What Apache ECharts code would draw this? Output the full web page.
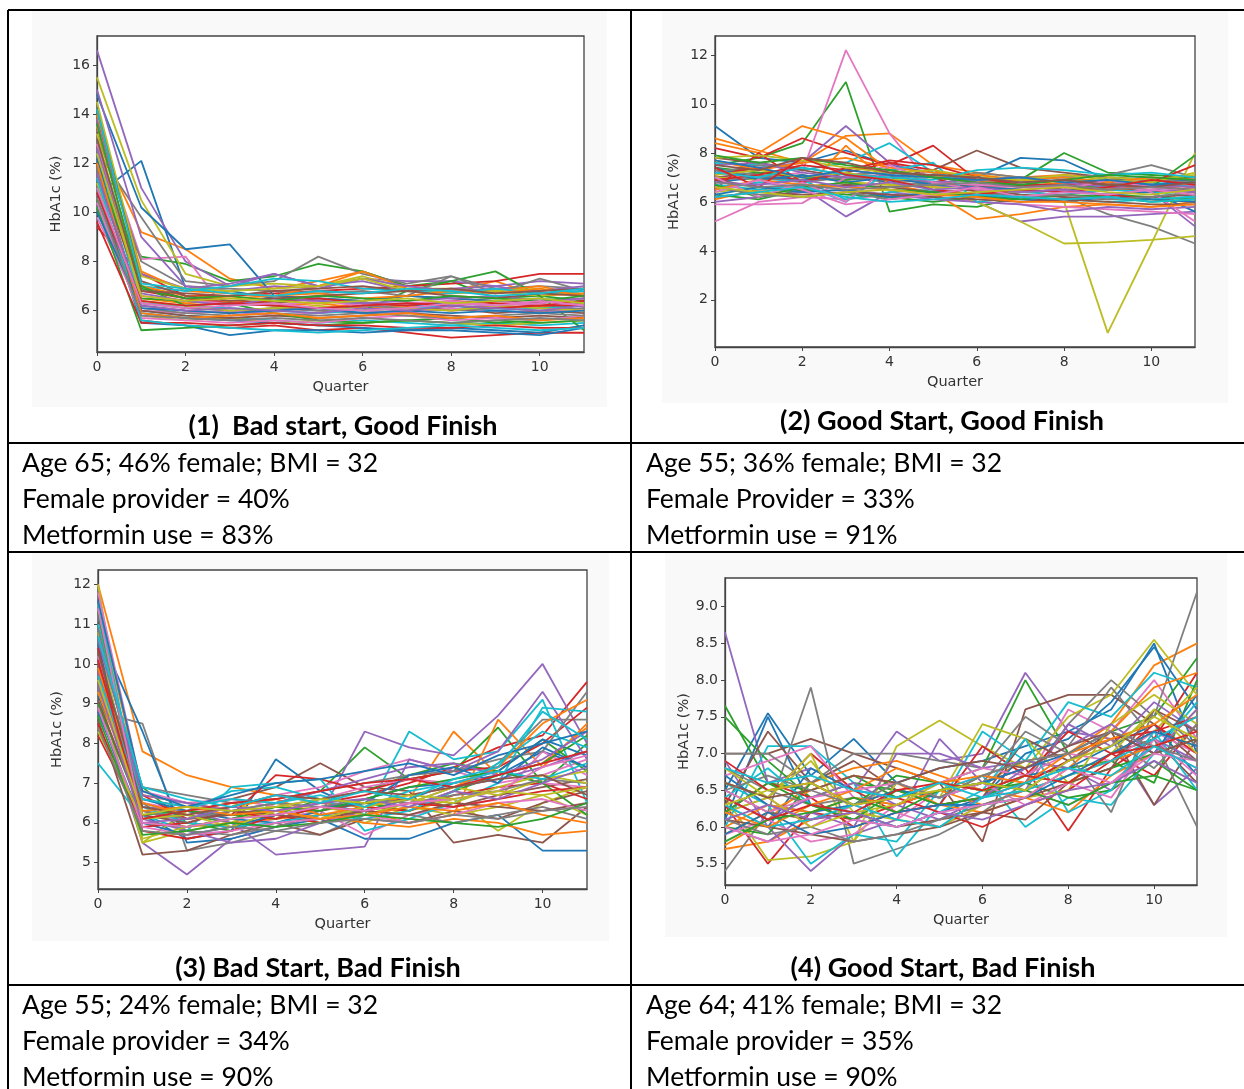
<!DOCTYPE html>
<html><head><meta charset="utf-8">
<script src="https://cdn.jsdelivr.net/npm/echarts@6/dist/echarts.min.js"></script>
<style>html,body{margin:0;padding:0;background:#fff;overflow:hidden}#c{width:1244px;height:1089px}</style>
</head><body><div id="c"></div>
<script>
// ---------------- DATA ----------------
const quarters = [0,1,2,3,4,5,6,7,8,9,10,11];
const xTicks = [0,2,4,6,8,10];
const p1Ticks = [6,8,10,12,14,16];
const p2Ticks = [2,4,6,8,10,12];
const p3Ticks = [5,6,7,8,9,10,11,12];
const p4Ticks = [5.5,6.0,6.5,7.0,7.5,8.0,8.5,9.0];
const xName = 'Quarter';
const yName = 'HbA1c (%)';
const panelTitles = ['(1)  Bad start, Good Finish','(2) Good Start, Good Finish','(3) Bad Start, Bad Finish','(4) Good Start, Bad Finish'];
const notes1 = ['Age 65; 46% female; BMI = 32','Female provider = 40%','Metformin use = 83%'];
const notes2 = ['Age 55; 36% female; BMI = 32','Female Provider = 33%','Metformin use = 91%'];
const notes3 = ['Age 55; 24% female; BMI = 32','Female provider = 34%','Metformin use = 90%'];
const notes4 = ['Age 64; 41% female; BMI = 32','Female provider = 35%','Metformin use = 90%'];

// Panel 1: Bad start, Good finish (HbA1c per patient, quarters 0..11)
const p1Lines = [
[10.7,12.1,6.9,6.8,6.5,6.4,6.3,6.2,6.3,6.2,6.1,6.2],
[13.0,9.2,8.5,7.3,6.9,7.2,7.6,7.0,6.8,7.2,6.6,6.7],
[11.0,8.2,7.9,7.2,7.4,7.9,7.6,7.0,7.2,6.5,6.6,6.4],
[9.4,7.5,6.6,6.6,6.7,6.8,6.9,7.0,7.1,7.2,7.5,7.5],
[16.6,11.0,8.0,7.0,7.5,7.0,7.3,7.2,7.2,7.0,7.2,7.1],
[12.2,7.0,6.5,6.4,6.3,6.5,6.4,6.6,6.5,6.4,6.3,6.5],
[13.5,8.1,8.2,5.8,6.0,6.1,6.3,6.0,6.2,6.4,6.2,6.3],
[12.5,9.8,7.2,7.0,7.2,8.2,7.5,7.1,7.4,6.9,7.0,6.9],
[15.5,10.5,7.5,7.0,7.1,7.0,7.4,6.9,6.9,6.8,6.6,6.8],
[10.2,6.0,5.8,5.7,5.6,5.5,5.6,5.5,5.4,5.5,5.4,5.5],
[14.8,10.2,8.5,8.7,6.6,6.5,6.4,6.6,6.5,6.4,6.5,6.3],
[12.8,6.5,6.3,6.4,6.2,6.3,6.1,6.2,6.0,6.1,6.2,6.0],
[10.5,6.5,6.4,6.3,6.2,6.1,6.0,6.8,7.2,7.6,6.6,5.2],
[12.0,5.6,5.4,5.3,5.4,5.2,5.3,5.1,4.9,5.0,5.1,5.1],
[13.8,7.5,6.9,7.1,7.5,7.0,7.2,6.8,6.9,7.0,6.7,6.8],
[11.5,6.2,6.0,5.9,6.1,6.0,5.9,6.0,6.1,5.9,6.0,5.9],
[9.8,6.0,5.9,6.0,5.8,5.9,6.0,5.9,6.1,6.0,5.9,6.1],
[13.2,8.0,7.0,6.9,6.8,6.7,6.8,6.6,7.4,6.7,7.3,6.8],
[11.2,5.8,5.6,5.7,5.5,5.6,5.5,5.6,5.5,5.4,5.5,5.6],
[12.4,6.3,6.2,6.1,6.0,5.9,6.0,6.1,6.2,6.0,6.1,6.2],
[11.0,5.5,5.4,5.0,5.2,5.2,5.1,5.2,5.2,5.1,5.0,5.3],
[14.0,7.6,6.8,6.7,6.6,7.0,7.6,6.9,6.7,6.8,7.0,6.6],
[10.2,5.2,5.3,5.4,5.5,5.4,5.5,5.6,5.5,5.6,5.5,5.6],
[11.8,6.8,6.5,6.3,6.4,6.5,6.3,6.2,6.4,6.3,6.2,6.4],
[15.0,9.0,7.0,6.8,7.0,6.9,7.3,7.0,6.8,6.9,6.8,7.0],
[10.8,6.0,5.8,5.7,5.8,5.7,5.8,5.9,5.8,5.7,5.8,5.7],
[12.8,6.6,6.4,6.3,6.2,6.4,6.2,6.3,6.4,6.2,6.3,6.5],
[11.5,6.3,6.1,6.0,6.1,6.0,6.2,6.1,6.0,6.1,6.0,6.1],
[14.5,7.4,6.9,6.8,6.9,7.0,7.3,6.8,6.7,6.8,6.9,6.6],
[13.0,7.0,6.8,7.0,7.3,7.2,6.9,6.8,6.7,6.9,6.7,6.8],
[12.2,5.9,5.7,5.6,5.5,5.4,5.3,5.2,5.3,5.2,5.1,5.4],
[13.5,7.0,6.6,6.5,6.6,6.7,6.5,6.6,6.8,6.7,6.9,6.6],
[11.8,7.0,6.2,6.3,5.9,5.6,5.5,5.6,5.7,5.5,5.6,5.8],
[9.6,5.5,5.5,5.4,5.5,5.4,5.4,5.3,5.3,5.4,5.3,5.3],
[12.6,6.7,6.4,6.2,6.5,6.4,6.3,6.4,6.5,6.6,6.4,6.5],
[14.2,7.2,6.6,6.4,6.5,6.6,6.7,6.8,6.6,6.5,6.7,6.6],
[10.4,5.7,5.6,5.5,5.6,5.5,5.7,5.8,5.6,5.7,5.6,5.8],
[11.8,6.1,5.9,5.8,5.9,5.8,5.9,5.8,5.7,5.8,5.9,5.8],
[13.2,6.4,6.2,6.0,6.1,6.2,6.0,6.1,6.0,6.2,6.1,6.0],
[11.4,5.6,5.4,5.3,5.2,5.1,5.2,5.3,5.4,5.3,5.2,5.3],
[10.0,6.1,6.0,5.9,6.0,6.1,5.9,6.0,5.9,6.0,5.9,6.0],
[12.0,5.9,5.7,5.8,5.9,5.7,5.8,5.9,5.7,5.8,5.6,5.7],
[13.6,6.9,6.5,6.6,6.4,6.6,6.5,6.4,6.6,6.5,6.4,6.6],
[10.8,6.4,6.2,6.3,6.2,6.1,6.2,6.3,6.2,6.1,6.2,6.2],
[11.6,6.2,6.0,6.1,6.0,5.9,6.1,6.0,6.2,6.1,6.0,6.2],
[13.0,6.8,6.7,6.6,6.8,6.9,7.0,6.8,6.9,6.7,6.8,6.9],
[11.0,6.3,6.1,6.2,6.3,6.1,6.0,6.1,6.3,6.2,6.4,6.2],
[10.6,5.8,5.7,5.6,5.7,5.6,5.7,5.6,5.5,5.6,5.7,5.6],
[12.4,6.6,6.4,6.5,6.4,6.3,6.4,6.5,6.3,6.4,6.5,6.3],
[14.2,7.1,6.9,6.7,6.6,6.8,6.7,6.9,6.8,6.6,6.7,6.9]
];

// Panel 2: Good start, Good finish
const p2Lines = [
[9.1,7.8,7.6,8.1,7.5,7.2,7.0,6.9,7.0,6.8,6.7,6.9],
[8.6,8.1,7.6,8.7,8.8,7.5,7.2,7.0,7.1,7.0,6.9,7.0],
[7.5,7.8,8.4,10.9,5.6,5.9,5.8,6.2,6.1,6.3,6.2,6.1],
[8.2,7.8,8.6,8.0,7.5,8.3,6.9,6.6,6.8,6.5,6.7,6.6],
[7.2,7.4,7.6,9.1,7.6,7.0,6.8,6.7,6.6,6.5,6.4,5.0],
[7.0,7.2,7.0,6.9,7.0,7.3,8.1,7.4,7.2,7.0,6.9,7.0],
[6.9,7.0,7.2,12.2,8.8,6.6,6.7,6.5,6.4,6.6,6.5,6.7],
[7.3,7.1,6.9,7.0,6.8,6.7,6.6,6.5,6.2,5.5,5.0,4.3],
[7.0,6.9,7.1,6.8,6.7,6.6,6.5,6.2,6.0,0.65,4.3,8.0],
[7.6,7.5,7.3,7.6,8.4,7.2,6.9,6.8,6.9,6.7,6.8,6.6],
[6.8,7.0,6.9,7.2,6.8,7.1,7.0,7.8,7.7,6.9,7.0,6.8],
[6.1,6.5,6.4,8.3,6.7,6.4,5.3,5.5,5.8,5.9,5.8,6.0],
[7.4,7.2,7.0,6.9,7.1,6.8,6.7,6.9,8.0,7.2,7.1,7.0],
[7.1,7.4,6.8,7.2,7.6,7.3,6.9,6.6,6.5,6.8,6.6,6.5],
[6.6,6.8,6.6,5.4,6.4,6.2,6.0,5.2,5.4,5.4,5.5,5.6],
[7.8,7.6,7.3,7.0,6.9,6.8,6.6,6.7,6.5,6.6,6.4,6.5],
[5.2,6.0,6.2,6.1,6.3,6.2,6.0,5.9,5.8,5.7,5.6,5.5],
[6.9,7.0,6.8,7.0,6.9,6.8,7.2,7.0,7.0,7.1,7.5,7.0],
[6.4,6.6,6.5,6.8,6.7,6.6,6.0,5.2,4.3,4.35,4.45,4.6],
[6.5,6.8,6.9,6.1,6.4,6.5,6.2,6.4,6.3,6.5,6.4,6.2],
[7.4,6.9,7.1,6.8,7.0,6.7,6.6,6.5,6.4,6.3,6.4,5.6],
[8.4,8.0,9.1,8.6,7.3,7.0,6.8,6.9,6.7,6.5,6.6,6.8],
[6.3,6.1,6.5,6.3,6.2,6.0,6.2,6.4,6.5,6.7,6.6,7.9],
[6.5,8.0,6.8,7.4,7.3,7.0,6.4,6.2,6.0,6.3,6.1,6.0],
[6.0,6.2,6.4,6.5,6.3,6.1,6.0,5.9,5.6,5.8,5.7,5.8],
[6.9,6.6,6.5,6.7,6.6,6.4,6.5,6.3,6.2,6.1,6.2,6.3],
[5.9,5.9,5.95,7.0,7.5,6.8,6.7,6.6,6.6,6.9,6.4,5.2],
[7.2,7.5,7.4,7.1,7.2,7.0,6.9,6.8,6.9,6.7,6.9,6.8],
[7.1,7.3,7.0,7.2,6.9,7.0,7.1,6.9,6.8,7.0,6.9,7.1],
[6.7,6.5,6.7,6.0,7.3,7.6,6.0,6.2,6.1,6.0,6.1,6.2],
[6.3,6.6,6.4,6.5,6.2,6.4,6.3,6.1,6.0,6.2,6.1,6.0],
[7.7,7.3,7.6,7.8,7.4,7.2,7.1,6.9,7.0,6.8,7.0,6.9],
[6.7,6.2,6.6,6.8,6.5,6.4,6.2,6.1,6.3,6.2,6.0,6.1],
[6.9,7.1,7.5,7.3,7.7,7.5,7.0,6.7,6.7,6.9,6.8,7.5],
[7.5,7.6,7.2,7.0,7.1,6.8,6.9,7.0,6.8,6.6,6.7,6.6],
[6.2,6.4,6.3,6.4,6.3,6.2,6.1,6.0,6.1,6.0,5.9,5.9],
[7.0,6.2,6.8,6.0,7.5,6.8,6.5,6.4,6.5,6.9,6.6,6.4],
[6.6,6.3,6.2,6.4,6.1,6.3,6.4,6.2,6.3,6.1,6.2,6.4],
[7.8,7.9,7.7,7.4,7.2,7.3,7.0,6.9,7.1,6.9,6.8,7.2],
[7.2,7.0,7.4,7.1,7.0,6.9,7.3,7.4,7.3,7.1,7.2,7.0],
[7.7,7.4,7.0,7.3,7.1,7.0,6.9,7.0,6.8,6.9,6.7,6.8],
[6.5,6.9,6.7,6.6,6.5,6.3,6.2,6.0,6.0,5.9,5.8,5.9],
[7.9,7.6,7.8,7.5,7.3,7.0,6.8,6.7,6.9,7.1,7.0,6.9],
[7.4,6.6,7.8,7.1,6.9,6.5,6.3,6.5,6.4,6.6,6.9,6.7],
[6.8,6.7,6.9,6.6,6.8,6.5,6.6,6.4,6.5,6.3,6.5,6.4],
[7.5,7.3,7.8,7.6,7.2,7.1,7.0,6.8,6.9,6.7,6.6,6.8],
[6.4,6.9,6.5,5.9,6.1,6.3,6.6,6.2,6.4,6.3,6.5,6.3],
[6.8,6.6,6.7,6.5,6.6,6.7,6.8,6.6,6.7,6.5,6.6,6.5],
[6.6,6.4,6.2,6.4,6.5,6.3,6.4,6.5,6.6,6.4,6.3,6.5],
[6.2,6.4,6.6,6.2,6.0,6.1,6.3,6.2,6.1,6.2,6.0,6.1]
];

// Panel 3: Bad start, Bad finish
const p3Lines = [
[10.5,6.2,5.6,5.8,7.6,6.8,6.3,6.6,7.0,7.2,7.8,7.4],
[12.0,7.8,7.2,6.9,6.7,6.5,6.4,6.6,8.3,7.2,7.5,8.4],
[11.0,6.5,6.2,6.0,6.5,6.8,7.9,7.1,7.3,8.4,7.0,8.0],
[8.2,6.0,5.9,6.1,6.3,6.5,6.7,7.0,7.4,7.9,8.2,9.55],
[9.0,5.5,4.7,5.6,5.9,6.2,8.3,7.9,7.7,8.7,10.0,8.0],
[9.5,6.6,6.4,6.6,6.9,7.5,6.9,6.8,5.5,5.7,5.5,6.4],
[10.2,6.5,6.3,6.4,6.7,6.9,7.3,7.6,7.3,7.0,7.2,7.6],
[8.8,8.5,5.3,5.5,5.8,5.7,6.2,6.4,6.8,7.5,8.6,8.6],
[9.3,5.5,6.3,6.5,6.2,6.0,6.4,6.3,6.6,5.8,6.5,6.9],
[7.5,6.1,6.3,6.8,6.9,6.6,6.2,8.3,7.6,7.8,9.1,6.5],
[10.8,8.3,5.5,5.6,5.9,6.1,5.6,5.6,6.0,6.2,5.3,5.3],
[11.5,6.7,6.5,6.3,6.2,6.0,6.3,6.0,6.2,8.6,7.4,8.5],
[10.6,6.9,6.0,5.8,6.2,6.6,6.8,7.2,7.5,7.3,8.1,7.3],
[9.8,6.7,6.1,6.2,7.2,7.1,6.8,7.1,7.3,7.4,8.0,8.9],
[11.2,6.4,6.3,6.0,5.2,5.3,5.4,7.6,7.3,7.8,9.3,7.6],
[8.6,5.2,5.3,5.7,6.0,5.7,6.1,6.0,6.3,6.1,6.5,6.8],
[9.6,6.3,6.0,5.9,6.1,6.3,5.7,6.2,6.4,6.6,7.8,7.2],
[10.0,6.9,6.7,6.5,6.6,6.8,7.0,7.2,7.3,7.6,7.8,9.3],
[12.0,5.5,5.8,6.0,6.5,6.2,6.0,6.4,6.2,6.4,6.7,6.2],
[11.5,6.2,5.8,6.9,7.0,7.1,5.8,6.1,6.5,7.0,8.9,8.8],
[9.2,6.6,6.3,6.1,6.0,6.3,6.6,6.9,7.0,7.3,8.1,7.7],
[8.4,6.0,5.9,6.0,6.1,6.2,6.0,5.9,6.1,6.0,5.7,5.8],
[9.0,6.2,6.3,6.2,6.1,6.4,6.5,6.3,6.8,7.2,7.5,8.2],
[10.4,5.8,5.6,5.8,6.2,6.0,6.4,6.3,6.7,6.9,7.0,6.6],
[9.8,6.1,5.8,5.5,5.6,6.0,6.3,6.5,6.9,7.1,7.4,7.8],
[10.0,6.3,6.1,6.2,6.4,6.3,6.5,6.6,6.4,6.7,6.9,7.1],
[11.8,6.8,6.5,6.6,6.4,6.6,6.9,7.1,7.0,7.3,7.0,6.9],
[9.4,6.5,5.8,5.7,5.9,6.2,6.3,6.2,6.0,6.2,6.4,6.1],
[10.8,5.6,5.9,6.1,6.3,6.4,6.2,6.5,6.9,6.7,7.1,7.3],
[11.0,6.4,6.0,5.9,6.0,6.2,6.1,6.3,6.8,7.5,8.3,7.9],
[8.8,6.0,5.7,5.9,6.2,6.4,6.5,7.2,7.4,7.0,7.9,7.4],
[9.9,6.5,6.2,6.4,6.6,6.2,6.4,6.7,6.9,7.4,8.5,9.1],
[11.3,6.0,5.9,6.1,6.4,6.3,6.6,6.9,7.1,7.3,7.0,6.2],
[8.5,5.9,6.0,6.3,6.1,6.4,6.3,6.5,6.4,6.6,6.8,6.9],
[10.6,6.7,6.5,6.3,6.5,6.8,7.1,7.4,7.5,7.2,7.6,8.3],
[9.1,6.2,6.0,6.3,6.2,6.1,6.3,6.2,6.5,6.4,6.3,6.5],
[8.9,5.9,5.7,5.8,6.0,6.1,6.2,6.0,6.2,6.5,6.6,6.3],
[10.9,6.3,6.1,6.3,6.5,6.4,6.6,6.5,6.7,6.8,7.1,7.0],
[8.3,6.1,6.2,5.9,6.3,6.1,6.4,6.6,6.5,6.9,7.2,7.0],
[9.7,6.6,6.4,6.6,6.5,6.7,6.4,6.8,7.0,7.3,7.1,7.5],
[11.6,6.8,6.4,6.7,7.0,7.1,7.3,7.5,7.2,7.7,8.0,8.3],
[9.3,6.3,6.4,6.2,6.3,6.1,6.2,6.4,6.3,6.5,6.2,6.0],
[8.7,5.7,5.8,6.0,5.9,6.0,6.2,6.1,6.0,5.9,6.1,6.5],
[10.1,6.1,6.3,6.5,6.6,6.8,7.0,7.1,6.9,7.2,7.5,7.8],
[9.5,6.0,6.1,6.4,6.3,6.5,6.6,6.4,6.8,6.6,7.0,7.4],
[10.3,6.4,6.2,6.4,6.7,6.6,6.8,6.7,6.9,7.1,7.2,6.7],
[11.4,6.0,5.9,6.1,6.2,6.4,6.3,6.5,6.6,6.8,7.4,7.7],
[8.4,5.8,5.7,5.9,5.8,6.0,6.1,6.0,6.2,6.1,6.3,6.4],
[9.6,6.2,6.4,6.3,6.4,6.6,6.5,6.7,6.6,6.8,6.7,6.9],
[10.7,6.9,6.6,6.4,6.7,6.5,6.8,6.6,7.1,7.4,8.8,8.1]
];

// Panel 4: Good start, Bad finish
const p4Lines = [
[6.5,7.55,6.7,7.2,6.6,6.8,6.9,7.1,7.3,7.6,8.5,7.0],
[5.7,5.8,6.1,6.3,6.5,6.4,6.6,6.9,7.0,7.4,8.2,8.5],
[7.65,6.6,6.5,6.7,6.4,6.6,6.8,8.0,7.0,7.3,7.5,8.3],
[6.3,5.5,6.2,6.1,6.3,6.5,6.6,6.8,5.95,6.8,7.2,8.1],
[8.65,6.6,6.8,6.5,7.3,6.9,7.0,8.1,7.3,7.2,6.3,6.8],
[7.0,7.0,7.2,7.0,6.8,6.6,5.8,7.6,7.8,7.8,7.4,6.9],
[6.2,6.4,6.0,6.3,6.1,6.5,6.7,6.6,7.6,7.3,8.0,7.2],
[5.4,6.2,7.9,5.5,5.7,5.9,6.2,6.6,7.4,8.0,7.5,9.2],
[6.4,5.55,5.6,5.8,7.1,7.45,7.1,6.8,7.5,7.8,8.55,7.8],
[6.0,7.1,7.1,6.6,5.6,6.3,7.3,6.9,7.7,7.5,8.1,7.9],
[6.1,7.5,6.3,6.1,6.0,6.2,6.4,7.0,7.2,7.7,8.45,7.6],
[5.75,6.1,6.6,6.8,6.9,6.7,6.5,6.4,6.8,7.3,7.9,8.1],
[7.5,6.9,6.4,6.6,6.5,6.4,6.7,6.9,6.8,6.9,6.6,8.0],
[6.6,6.4,7.0,6.5,6.2,6.3,7.1,6.7,7.3,7.0,6.7,7.4],
[6.9,6.0,5.4,5.9,6.1,7.2,6.6,6.5,7.4,7.1,7.7,7.3],
[6.3,7.3,6.6,6.9,6.5,6.3,6.4,7.2,6.9,7.3,6.3,7.2],
[6.7,6.9,7.1,6.4,6.2,6.0,6.3,6.5,6.3,6.6,7.1,6.8],
[7.0,7.0,6.6,7.0,7.0,6.9,6.8,7.5,7.1,7.9,7.2,6.0],
[6.2,6.4,7.0,5.8,6.6,6.4,7.4,7.2,6.6,7.0,7.3,7.9],
[6.6,6.3,5.5,5.9,5.8,6.5,6.7,6.0,6.4,6.3,7.0,7.7],
[6.3,6.0,6.8,6.5,6.4,6.6,6.5,6.7,6.8,7.1,7.4,6.7],
[5.9,6.2,6.5,6.7,6.6,6.3,6.2,6.4,6.2,6.7,7.0,7.6],
[6.0,5.9,6.6,6.3,6.7,6.6,6.5,6.6,6.4,6.5,6.9,6.5],
[6.2,6.6,6.4,6.0,6.2,6.3,6.4,6.6,6.9,7.2,7.3,7.5],
[6.0,5.8,6.2,6.0,7.0,7.0,6.8,6.9,6.8,6.5,7.2,6.9],
[6.5,6.2,6.1,6.2,6.0,6.1,6.2,6.1,6.6,7.0,7.2,6.6],
[5.9,6.1,5.8,5.9,6.3,6.6,6.8,6.7,7.0,6.9,7.3,7.0],
[6.8,6.5,6.3,6.4,6.3,6.5,6.6,7.3,7.0,6.2,7.6,7.1],
[6.6,6.4,6.9,6.2,6.1,6.0,6.3,6.4,6.5,7.4,7.8,7.4],
[6.4,6.8,6.3,6.2,6.0,6.2,6.5,7.2,6.2,6.5,7.3,6.5],
[6.7,6.3,6.2,6.3,6.5,6.4,6.6,6.8,7.0,7.3,7.0,7.8],
[6.0,6.3,6.2,6.4,6.3,6.5,6.3,6.5,6.7,6.9,7.1,7.3],
[6.2,6.6,6.3,6.1,6.5,6.3,6.4,6.7,6.6,6.8,7.0,7.2],
[6.9,6.5,6.6,6.3,6.4,6.2,6.0,6.3,6.5,6.9,7.4,7.0],
[6.4,6.1,6.4,6.6,6.3,6.1,6.4,6.8,7.1,7.4,7.0,7.6],
[6.1,6.0,5.9,5.8,5.9,6.0,6.2,6.4,6.6,6.8,7.6,7.3],
[6.5,6.2,6.4,6.5,6.6,6.4,6.6,6.3,6.6,6.4,7.2,6.7],
[6.1,5.9,6.0,5.8,5.9,6.1,6.3,6.5,6.9,7.2,6.8,7.4],
[6.8,6.4,6.0,6.2,6.3,6.6,6.5,6.7,6.6,7.0,7.6,7.0],
[6.3,6.0,6.1,6.3,6.1,6.0,6.4,6.5,6.7,6.9,7.2,7.5],
[5.9,6.2,5.9,6.0,6.2,6.3,6.3,6.4,6.7,7.0,7.3,7.1],
[6.2,6.0,6.3,6.5,6.8,6.6,6.7,6.6,7.0,7.2,7.4,7.8],
[5.8,6.1,6.2,6.4,6.2,6.5,6.6,6.5,6.3,6.6,6.7,6.5],
[6.4,6.1,6.3,6.2,6.5,6.6,6.5,6.7,6.6,7.0,7.1,7.3],
[6.1,6.3,6.1,6.2,6.0,6.2,6.1,6.3,6.5,6.6,6.9,6.6],
[6.6,6.4,6.5,6.7,6.6,6.8,6.9,6.8,7.1,7.3,7.0,7.2],
[6.0,5.8,5.9,6.1,6.0,6.2,6.3,6.4,6.8,6.6,7.0,6.9],
[6.5,6.7,6.5,6.3,6.6,6.4,6.7,6.9,7.0,7.3,7.1,6.9],
[6.3,6.5,6.6,6.3,6.4,6.5,6.6,6.5,6.9,7.1,7.5,7.2],
[6.8,6.6,6.7,6.5,6.4,6.6,6.4,6.6,6.8,6.7,7.1,6.8]
];

// ---------------- STYLE / LAYOUT ----------------
const palette = ['#1f77b4','#ff7f0e','#2ca02c','#d62728','#9467bd','#8c564b','#e377c2','#7f7f7f','#bcbd22','#17becf'];
const panels = [
  {lines:p1Lines, ticks:p1Ticks, yMin:4.315, yMax:17.185, box:[97,36,487,316], img:[32,11,575,396], dec:0},
  {lines:p2Lines, ticks:p2Ticks, yMin:0.0725, yMax:12.7775, box:[715,36,480,311], img:[662,11,566,392], dec:0},
  {lines:p3Lines, ticks:p3Ticks, yMin:4.335, yMax:12.365, box:[98,570,489,319], img:[32,553,577,388], dec:0},
  {lines:p4Lines, ticks:p4Ticks, yMin:5.21, yMax:9.39, box:[725,578,472,307], img:[665,553,562,384], dec:1}
];
const axisColor = '#444';
const tickFont = {color:'#333', fontSize:14, fontFamily:'DejaVu Sans'};
const nameFont = {color:'#333', fontSize:14.5, fontFamily:'DejaVu Sans'};

const grids = [], xAxes = [], yAxes = [], series = [];
panels.forEach((p, i) => {
  const [l, t, w, h] = p.box;
  grids.push({left:l, top:t, width:w, height:h, show:true, backgroundColor:'#fff', borderColor:axisColor, borderWidth:1.3, containLabel:false});
  xAxes.push({type:'value', gridIndex:i, min:0, max:11,
    name:xName, nameLocation:'middle', nameGap:28, nameTextStyle:nameFont,
    axisLine:{show:true, onZero:false, lineStyle:{color:axisColor, width:1.3}},
    axisTick:{show:true, length:4, lineStyle:{color:axisColor}, customValues:xTicks},
    axisLabel:{...tickFont, margin:8, customValues:xTicks},
    splitLine:{show:false}});
  yAxes.push({type:'value', gridIndex:i, min:p.yMin, max:p.yMax,
    name:yName, nameLocation:'middle', nameGap:33, nameRotate:90, nameTextStyle:nameFont,
    axisLine:{show:true, onZero:false, lineStyle:{color:axisColor, width:1.3}},
    axisTick:{show:true, length:4, lineStyle:{color:axisColor}, customValues:p.ticks},
    axisLabel:{...tickFont, margin:7, customValues:p.ticks, formatter:v => Number(v).toFixed(p.dec)},
    splitLine:{show:false}});
  p.lines.forEach((vals, k) => {
    series.push({type:'line', xAxisIndex:i, yAxisIndex:i, silent:true, symbol:'none', showSymbol:false,
      data: quarters.map((q, j) => [q, vals[j]]),
      lineStyle:{color:palette[k % 10], width:1.8}, itemStyle:{color:palette[k % 10]}, clip:true});
  });
});

// graphic: image backgrounds, table lines, texts
const g = [];
panels.forEach(p => {
  const [x, y, w, h] = p.img;
  g.push({type:'rect', z:-5, shape:{x, y, width:w, height:h}, style:{fill:'#f9f9f9'}, silent:true});
});
const lineStyle = {stroke:'#000', lineWidth:2};
[[8,10,1244,10],[8,443,1244,443],[8,552,1244,552],[8,985,1244,985],[8,10,8,1089],[631,10,631,1089]].forEach(([x1,y1,x2,y2]) => {
  g.push({type:'line', z:50, shape:{x1,y1,x2,y2}, style:lineStyle, silent:true});
});
const titleFont = 'bold 27px Lato, "Noto Sans", sans-serif';
const titlePos = [[343,426],[942,421],[318,968],[943,968]];
panelTitles.forEach((tx, i) => {
  g.push({type:'text', z:50, x:titlePos[i][0], y:titlePos[i][1], style:{text:tx, font:titleFont, fill:'#000', align:'center', verticalAlign:'middle'}});
});
const noteFont = '26.5px Lato, "Noto Sans", sans-serif';
const notePos = [[22,463],[646,463],[22,1005],[646,1005]];
[notes1, notes2, notes3, notes4].forEach((arr, i) => {
  arr.forEach((tx, k) => {
    g.push({type:'text', z:50, x:notePos[i][0], y:notePos[i][1] + k*36, style:{text:tx, font:noteFont, fill:'#000', align:'left', verticalAlign:'middle'}});
  });
});

const chart = echarts.init(document.getElementById('c'), null, {renderer:'canvas'});
chart.setOption({
  animation:false,
  backgroundColor:'#fff',
  grid:grids, xAxis:xAxes, yAxis:yAxes, series:series,
  graphic:{elements:g}
});
</script>
</body></html>
